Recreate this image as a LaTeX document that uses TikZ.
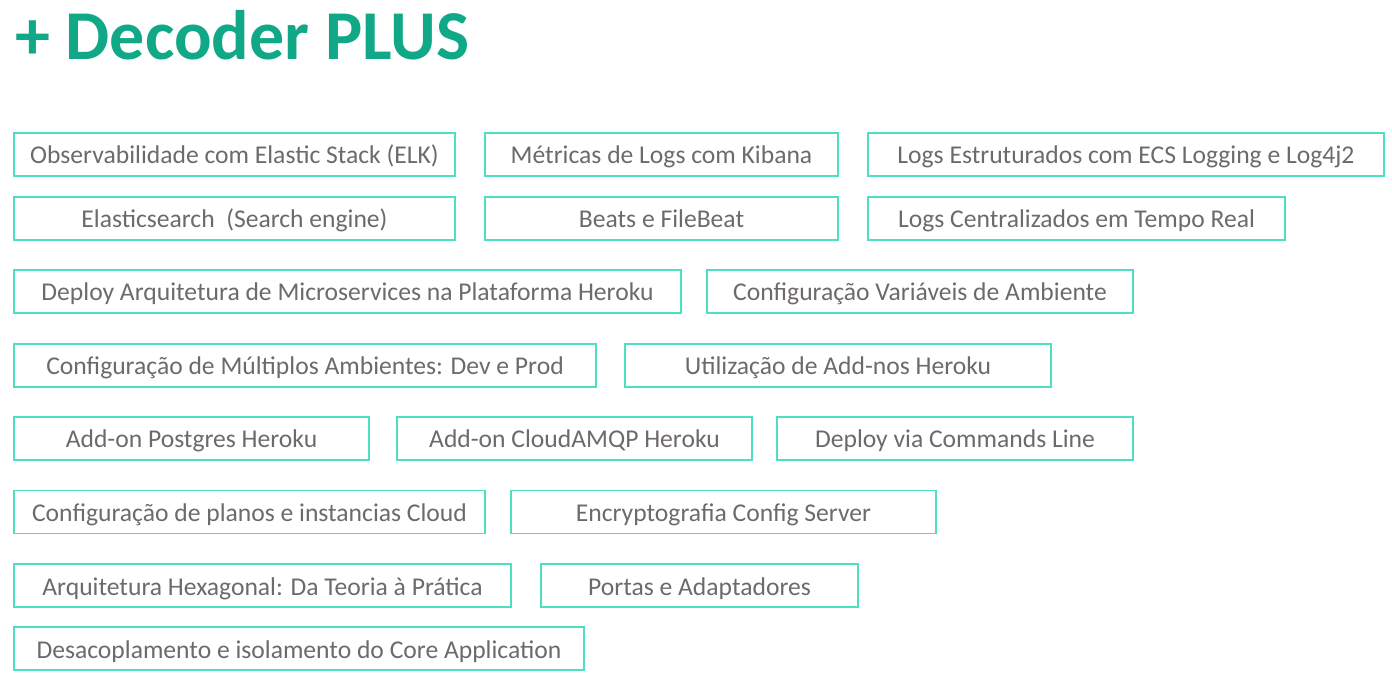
\documentclass[tikz,border=0pt]{standalone}
\usepackage{fontspec}
\setmainfont{Carlito}
\definecolor{titlegreen}{HTML}{10A886}
\definecolor{boxline}{HTML}{4CE0C1}
\definecolor{txtgray}{HTML}{6E6A6A}
\tikzset{
  topic/.style={draw=boxline, line width=1.6pt, fill=white, minimum height=43pt, inner sep=0pt, text height=25pt, text depth=6pt, text=txtgray, font=\fontsize{25.6}{28}\selectfont, anchor=center},
}
\begin{document}
\begin{tikzpicture}[x=1pt,y=1pt]
\useasboundingbox (0,0) rectangle (1392,683);
\node[anchor=base west, inner sep=0pt, text=titlegreen, font=\bfseries\fontsize{70}{78}\selectfont] (title) at (15,623) {+ Decoder PLUS};
% row 1
\node[topic, minimum width=441pt] (r1a) at (234.5,528.5) {Observabilidade com Elastic Stack (ELK)};
\node[topic, minimum width=353pt] (r1b) at (661.5,528.5) {Métricas de Logs com Kibana};
\node[topic, minimum width=516pt] (r1c) at (1126,528.5) {Logs Estruturados com ECS Logging e Log4j2};
% row 2
\node[topic, minimum width=441pt] (r2a) at (234.5,464.5) {Elasticsearch \ (Search engine)};
\node[topic, minimum width=353pt] (r2b) at (661.5,464.5) {Beats e FileBeat};
\node[topic, minimum width=417pt] (r2c) at (1076.5,464.5) {Logs Centralizados em Tempo Real};
% row 3
\node[topic, minimum width=667pt] (r3a) at (347.5,391.5) {Deploy Arquitetura de Microservices na Plataforma Heroku};
\node[topic, minimum width=426pt] (r3b) at (920,391.5) {Configuração Variáveis de Ambiente};
% row 4
\node[topic, minimum width=582pt] (r4a) at (305,317.5) {Configuração de Múltiplos Ambientes: Dev e Prod};
\node[topic, minimum width=426pt] (r4b) at (838,317.5) {Utilização de Add-nos Heroku};
% row 5
\node[topic, minimum width=355pt] (r5a) at (191.5,244.5) {Add-on Postgres Heroku};
\node[topic, minimum width=355pt] (r5b) at (574.5,244.5) {Add-on CloudAMQP Heroku};
\node[topic, minimum width=356pt] (r5c) at (955,244.5) {Deploy via Commands Line};
% row 6
\node[topic, minimum width=471pt] (r6a) at (249.5,171) {Configuração de planos e instancias Cloud};
\node[topic, minimum width=425pt] (r6b) at (723.5,171) {Encryptografia Config Server};
% row 7
\node[topic, minimum width=497pt] (r7a) at (262.5,97.5) {Arquitetura Hexagonal: Da Teoria à Prática};
\node[topic, minimum width=317pt] (r7b) at (699.5,97.5) {Portas e Adaptadores};
% row 8
\node[topic, minimum width=570pt] (r8a) at (299,34.5) {Desacoplamento e isolamento do Core Application};
\end{tikzpicture}
\end{document}
